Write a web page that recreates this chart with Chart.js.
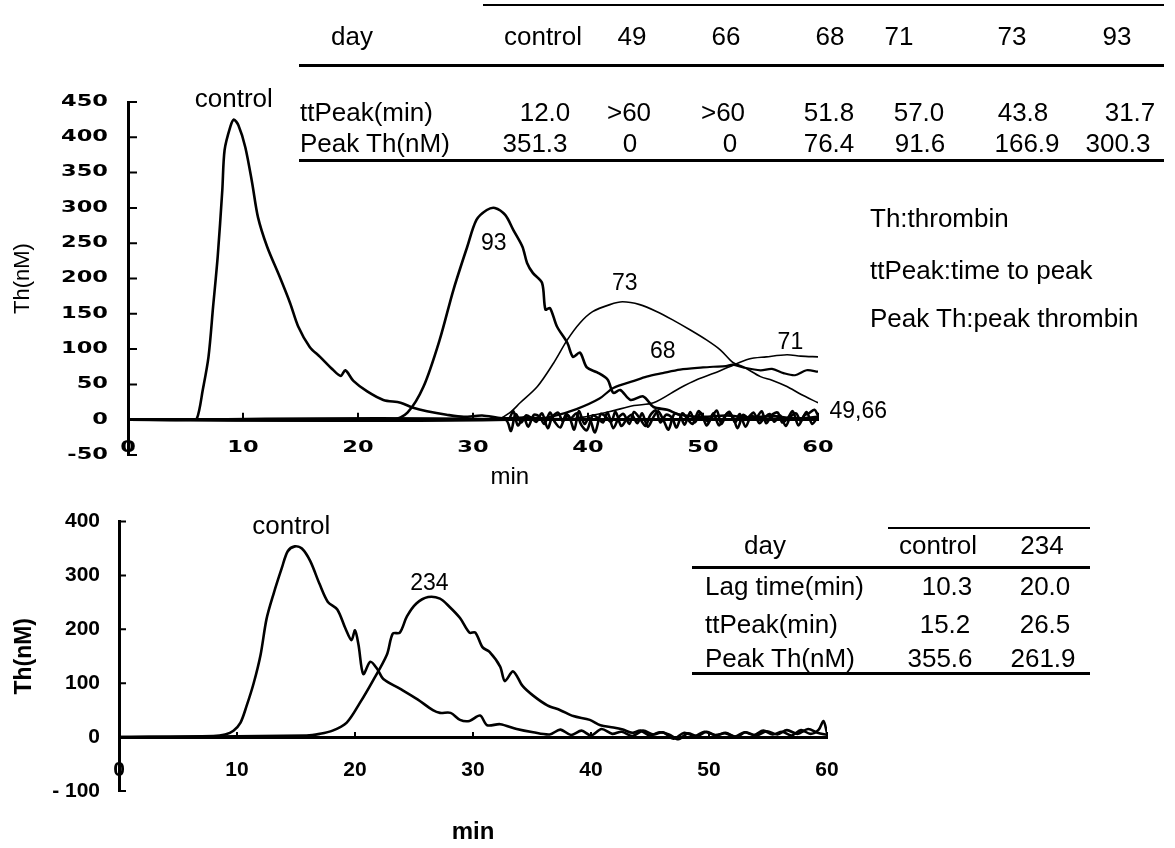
<!DOCTYPE html>
<html>
<head>
<meta charset="utf-8">
<script src="https://cdn.jsdelivr.net/npm/chart.js@4.4.0/dist/chart.umd.min.js"></script>
<style>
  html, body { margin: 0; padding: 0; background: #fff; }
  #page { position: relative; width: 1175px; height: 848px; overflow: hidden; background: #fff;
          font-family: 'Liberation Sans', Arial, sans-serif; color: #000; }
  canvas { position: absolute; left: 0; }
  #top { top: 0; }
  #bottom { top: 490px; }
  .t { position: absolute; font-size: 26px; line-height: 1; white-space: nowrap; }
  .c { transform: translate(-50%, -50%); }
  .l { transform: translate(0, -50%); }
  .rule { position: absolute; background: #000; }
</style>
</head>
<body>
<div id="page">
  <canvas id="top" width="1175" height="490"></canvas>
  <canvas id="bottom" width="1175" height="358"></canvas>
</div>
<script>
// ---- upper panel: thrombin generation curves (min, nM) ----
const ctrlTopX = [0, 5.5, 6.0, 6.5, 7.0, 7.4, 7.8, 8.2, 8.4, 8.9,
  9.2, 9.6, 10.2, 10.8, 11.3, 12.1, 13.2, 14.1, 14.8, 15.8,
  16.7, 17.8, 18.5, 18.9, 19.6, 20.8, 22.2, 23.7, 24.8, 26.0,
  27.7, 29.2, 30.8, 32.5, 34.5, 37.0, 40.0, 45.0, 50.0, 55.0, 60.0];
const ctrlTopY = [0, 0, 2, 42, 89, 160, 231, 325, 382, 415,
  425, 417, 386, 335, 287, 245, 202, 165, 132, 103,
  89, 71, 62, 70, 55, 40, 28, 24, 17, 12,
  7, 4, 6, 2, 3, 1, 0, 0, 0, 0, 0];

const d93X = [0, 23.0, 24.3, 25.7, 27.1, 28.3, 29.5, 30.3, 31.2, 31.9,
  32.8, 33.5, 34.3, 34.7, 35.2, 36.0, 36.3, 36.7, 37.3, 38.2,
  38.7, 39.3, 39.9, 40.8, 41.7, 42.2, 42.8, 43.7, 44.8, 45.7,
  46.9, 48.0, 50.0, 52.0, 54.0, 56.0, 58.0, 60.0];
const d93Y = [0, 0, 10, 47, 113, 184, 245, 283, 297, 300,
  290, 269, 245, 222, 208, 194, 156, 158, 132, 109,
  89, 95, 74, 67, 57, 38, 42, 28, 33, 18,
  14, 7, 4, 6, 3, 5, 2, 4];

const d73X = [0, 32.0, 33.2, 34.1, 35.6, 37.0, 38.2, 39.3, 40.4, 41.9,
  43.0, 44.5, 46.0, 47.4, 48.9, 50.3, 51.5, 52.6, 53.5, 55.0,
  56.0, 57.3, 58.5, 60.0];
const d73Y = [0, 0, 10, 24, 47, 80, 113, 137, 153, 163,
  167, 163, 153, 141, 127, 113, 99, 81, 75, 61,
  56, 47, 36, 24];

const d68X = [0, 35.0, 37.0, 39.0, 41.0, 42.2, 44.0, 45.1, 46.5, 48.0,
  50.0, 50.9, 52.0, 52.6, 53.5, 55.0, 56.0, 57.0, 58.0, 59.0, 60.0];
const d68Y = [0, 0, 5, 15, 30, 45, 55, 61, 66, 71,
  74, 75, 76, 78, 74, 70, 72, 66, 63, 70, 68];

const d71X = [0, 38.0, 40.0, 42.0, 44.0, 45.7, 48.0, 49.5, 51.0, 52.3,
  54.0, 55.5, 57.3, 58.5, 60.0];
const d71Y = [0, 0, 5, 12, 20, 24, 45, 57, 66, 75,
  86, 89, 92, 90, 89];

const d49X = [0, 32.8, 33.3, 33.7, 34.2, 34.6, 35.1, 35.5, 36.0, 36.5,
  36.9, 37.4, 37.8, 38.3, 38.8, 39.2, 39.7, 40.1, 40.6, 41.1,
  41.5, 42.0, 42.4, 42.9, 43.4, 43.8, 44.3, 44.7, 45.2, 45.7,
  46.1, 46.6, 47.0, 47.5, 48.0, 48.4, 48.9, 49.3, 49.8, 50.3,
  50.7, 51.2, 51.6, 52.1, 52.6, 53.0, 53.5, 53.9, 54.4, 54.9,
  55.3, 55.8, 56.2, 56.7, 57.2, 57.6, 58.1, 58.5, 59.0, 59.5, 60.0];
const d49Y = [0, 0, -16, 8, -4, 6, 2, -3, 9, -12,
  4, 10, -2, 6, -14, 12, -6, 3, -18, 8,
  5, -3, 11, -9, 2, 7, -5, 9, -10, 4,
  12, -2, -14, 8, 6, -7, 11, -4, 10, -8,
  2, 13, -6, 9, 4, -12, 7, 3, 10, -5,
  2, 8, -3, 6, -9, 4, 9, -2, 11, -6, 5];

const d66X = [0, 33.0, 33.5, 33.9, 34.4, 34.8, 35.3, 35.8, 36.2, 36.7,
  37.1, 37.6, 38.1, 38.5, 39.0, 39.4, 39.9, 40.4, 40.8, 41.3,
  41.7, 42.2, 42.7, 43.1, 43.6, 44.0, 44.5, 45.0, 45.4, 45.9,
  46.3, 46.8, 47.3, 47.7, 48.2, 48.6, 49.1, 49.6, 50.0, 50.5,
  50.9, 51.4, 51.9, 52.3, 52.8, 53.2, 53.7, 54.2, 54.6, 55.1,
  55.5, 56.0, 56.5, 56.9, 57.4, 57.8, 58.3, 58.8, 59.2, 59.7, 60.0];
const d66Y = [0, 0, 12, -8, 3, -10, 7, 4, -6, 10,
  -3, -11, 8, 2, 9, -7, -15, 6, 3, -4,
  10, -12, 4, 8, -6, 11, 2, -9, 6, 13,
  -4, 7, 3, -11, 9, 2, -6, 12, 4, -3,
  9, -8, 5, 11, -4, 8, -10, 6, 2, 12,
  -5, 7, 10, -4, 3, 12, -8, 6, 9, 14, 6];

// ---- lower panel ----
const ctrlBotX = [0, 8.0, 9.0, 9.7, 10.3, 10.8, 11.4, 12.0, 12.5, 13.1,
  13.8, 14.3, 14.9, 15.5, 16.2, 17.0, 17.7, 18.5, 19.2, 19.7,
  20.0, 20.3, 20.7, 21.3, 21.9, 22.4, 23.8, 25.3, 26.6, 27.2,
  28.1, 28.9, 29.7, 30.6, 31.2, 32.3, 33.7, 35.1, 36.5, 37.4,
  38.3, 39.2, 40.0, 40.9, 41.8, 42.6, 43.5, 44.4, 45.3, 46.1,
  47.0, 47.9, 48.8, 49.6, 50.5, 51.4, 52.3, 53.1, 54.0, 54.9,
  55.8, 56.6, 57.5, 58.4, 59.2, 60.0];
const ctrlBotY = [0, 2, 5, 12, 27, 57, 99, 153, 219, 266,
  314, 345, 354, 350, 327, 284, 251, 237, 201, 180,
  198, 171, 117, 140, 126, 108, 90, 70, 50, 45,
  45, 32, 30, 40, 22, 24, 15, 9, 5, 14,
  4, 12, 3, 15, 6, 10, 2, 12, 5, 9,
  -3, 8, 2, 10, 4, 7, 0, 9, 3, 11,
  5, 13, 6, 15, 8, 4];

const d234X = [0, 15.9, 17.0, 18.1, 19.3, 20.4, 21.5, 22.7, 23.2, 23.8,
  24.4, 25.2, 26.2, 27.2, 28.0, 28.9, 29.7, 30.2, 30.8, 31.4,
  32.3, 32.7, 33.4, 34.2, 35.1, 36.3, 37.4, 38.5, 39.9, 40.8,
  41.9, 42.7, 43.5, 44.2, 45.0, 45.8, 46.6, 47.4, 48.2, 49.0,
  49.8, 50.6, 51.4, 52.2, 53.0, 53.8, 54.6, 55.4, 56.2, 57.0,
  57.8, 58.6, 59.3, 59.7, 60.0];
const d234Y = [0, 3, 6, 12, 27, 63, 104, 153, 192, 194,
  224, 248, 260, 257, 242, 221, 194, 194, 167, 158,
  131, 104, 122, 95, 77, 59, 50, 39, 32, 22,
  18, 14, 8, 12, 3, 9, 5, -4, 7, 2,
  10, 3, 8, 1, 9, 4, 12, 5, 10, 3,
  13, 6, 14, 30, 8];

// ---- tables and notes ----
const topDays = ['control', '49', '66', '68', '71', '73', '93'];
const topTtPeak = ['12.0', '>60', '>60', '51.8', '57.0', '43.8', '31.7'];
const topPeakTh = ['351.3', '0', '0', '76.4', '91.6', '166.9', '300.3'];
const botDays = ['control', '234'];
const botLag = ['10.3', '20.0'];
const botTtPeak = ['15.2', '26.5'];
const botPeakTh = ['355.6', '261.9'];
const notes = ['Th:thrombin', 'ttPeak:time to peak', 'Peak Th:peak thrombin'];

const xy = (xs, ys) => xs.map((x, i) => ({ x: x, y: ys[i] }));
const line = (xs, ys, w) => ({ data: xy(xs, ys), borderColor: '#000', borderWidth: w,
  pointRadius: 0, tension: 0.3, fill: false });

// tick labels of the upper panel are printed wide in the scan
const wideTickLabels = {
  id: 'wideTickLabels',
  afterDraw(chart, args, opts) {
    const { ctx, scales: { x, y } } = chart;
    const y0 = y.getPixelForValue(0);
    ctx.save();
    ctx.fillStyle = '#000';
    ctx.font = 'bold ' + opts.size + 'px "DejaVu Sans"';
    ctx.textBaseline = 'middle';
    const put = (txt, px, py, align) => {
      ctx.save();
      ctx.translate(px, py);
      ctx.scale(opts.stretch, 1);
      ctx.textAlign = align;
      ctx.fillText(txt, 0, 0);
      ctx.restore();
    };
    y.ticks.forEach(t => put(String(t.label), x.left - opts.gapY, y.getPixelForValue(t.value), 'right'));
    x.ticks.forEach(t => put(String(t.label), x.getPixelForValue(t.value), y0 + opts.gapX, 'center'));
    ctx.restore();
  }
};

// inward tick marks
const tickMarks = {
  id: 'tickMarks',
  afterDraw(chart, args, opts) {
    const { ctx, scales: { x, y } } = chart;
    const y0 = y.getPixelForValue(0);
    ctx.save();
    ctx.strokeStyle = '#000';
    ctx.lineWidth = 2;
    ctx.beginPath();
    y.ticks.forEach(t => {
      const p = y.getPixelForValue(t.value);
      ctx.moveTo(x.left, p); ctx.lineTo(x.left + opts.len, p);
    });
    x.ticks.forEach(t => {
      if (t.value === 0) return;
      const p = x.getPixelForValue(t.value);
      ctx.moveTo(p, y0); ctx.lineTo(p, y0 - opts.len + 2);
    });
    ctx.stroke();
    ctx.restore();
  }
};

// curve labels, placed in data coordinates
const curveLabels = {
  id: 'curveLabels',
  afterDraw(chart, args, opts) {
    const { ctx, scales: { x, y } } = chart;
    ctx.save();
    ctx.fillStyle = '#000';
    ctx.textBaseline = 'middle';
    opts.items.forEach(it => {
      ctx.font = it[3] + 'px "Liberation Sans", Arial, sans-serif';
      ctx.textAlign = it[4] || 'center';
      ctx.fillText(it[0], x.getPixelForValue(it[1]), y.getPixelForValue(it[2]));
    });
    ctx.restore();
  }
};

const topLabels = [['control', 9.2, 453, 26], ['93', 31.8, 250, 23], ['73', 43.2, 192, 23],
  ['68', 46.5, 96, 23], ['71', 57.6, 109, 23], ['49,66', 61.0, 11, 23, 'left'], ['min', 33.2, -82, 24]];
const botLabels = [['control', 14.6, 390, 26], ['234', 26.3, 284, 23]];

new Chart(document.getElementById('top'), {
  type: 'line',
  data: { datasets: [
    line(d49X, d49Y, 2.6), line(d66X, d66Y, 2.6),
    line(ctrlTopX, ctrlTopY, 2.6), line(d93X, d93Y, 2.6),
    line(d73X, d73Y, 1.6), line(d68X, d68Y, 2.2), line(d71X, d71Y, 1.6)
  ] },
  options: {
    responsive: false,
    animation: false,
    layout: { padding: { left: 0, top: 102, right: 357, bottom: 35 } },
    plugins: {
      legend: { display: false },
      tooltip: { enabled: false },
      wideTickLabels: { size: 15, stretch: 1.5, gapY: 20, gapX: 28 },
      tickMarks: { len: 9 },
      curveLabels: { items: topLabels }
    },
    scales: {
      x: {
        type: 'linear', min: 0, max: 60, position: { y: 0 },
        grid: { display: false, drawTicks: false },
        border: { color: '#000', width: 3 },
        ticks: { stepSize: 10, display: false }
      },
      y: {
        min: -50, max: 450,
        afterFit: s => { s.width = 128; },
        grid: { display: false, drawTicks: false },
        border: { color: '#000', width: 3 },
        ticks: { stepSize: 50, display: false },
        title: { display: true, text: 'Th(nM)', color: '#000', padding: { top: 10 },
          font: { family: 'Liberation Sans', size: 22 } }
      }
    }
  },
  plugins: [wideTickLabels, tickMarks, curveLabels]
});

new Chart(document.getElementById('bottom'), {
  type: 'line',
  data: { datasets: [line(d234X, d234Y, 2.6), line(ctrlBotX, ctrlBotY, 2.6)] },
  options: {
    responsive: false,
    animation: false,
    layout: { padding: { left: 0, top: 22, right: 348, bottom: 57 } },
    plugins: {
      legend: { display: false },
      tooltip: { enabled: false },
      tickMarks: { len: 7 },
      curveLabels: { items: botLabels }
    },
    scales: {
      x: {
        type: 'linear', min: 0, max: 60, position: { y: 0 },
        grid: { display: false, drawTicks: false },
        border: { color: '#000', width: 3 },
        ticks: { stepSize: 10, color: '#000', padding: 20, maxRotation: 0,
          font: { family: 'Liberation Sans', size: 21, weight: 'bold' } },
        title: { display: true, text: 'min', color: '#000', padding: { top: 16 },
          font: { family: 'Liberation Sans', size: 24, weight: 'bold' } }
      },
      y: {
        min: -100, max: 400,
        afterFit: s => { s.width = 119; },
        grid: { display: false, drawTicks: false },
        border: { color: '#000', width: 3 },
        ticks: { stepSize: 100, color: '#000', padding: 19,
          font: { family: 'Liberation Sans', size: 21, weight: 'bold' },
          callback: v => v < 0 ? '- ' + Math.abs(v) : v },
        title: { display: true, text: 'Th(nM)', color: '#000', padding: { top: 11 },
          font: { family: 'Liberation Sans', size: 23, weight: 'bold' } }
      }
    }
  },
  plugins: [tickMarks, curveLabels]
});

// ---- HTML tables ----
const page = document.getElementById('page');
function addText(txt, x, y, cls) {
  const d = document.createElement('div');
  d.className = 't ' + cls;
  d.style.left = x + 'px';
  d.style.top = y + 'px';
  d.textContent = txt;
  page.appendChild(d);
}
function addRule(x1, x2, y, h) {
  const d = document.createElement('div');
  d.className = 'rule';
  d.style.left = x1 + 'px';
  d.style.width = (x2 - x1) + 'px';
  d.style.top = (y - h / 2) + 'px';
  d.style.height = h + 'px';
  page.appendChild(d);
}

// upper table
addRule(483, 1164, 5, 2);
addRule(299, 1164, 65, 3);
addRule(299, 1164, 160, 3);
addText('day', 352, 36, 'c');
[543, 632, 726, 830, 899, 1012, 1117].forEach((x, i) => addText(topDays[i], x, 36, 'c'));
addText('ttPeak(min)', 300, 112, 'l');
[545, 629, 723, 829, 919, 1023, 1130].forEach((x, i) => addText(topTtPeak[i], x, 112, 'c'));
addText('Peak Th(nM)', 300, 143, 'l');
[535, 630, 730, 829, 920, 1027, 1118].forEach((x, i) => addText(topPeakTh[i], x, 143, 'c'));

// notes
[218, 270, 318].forEach((y, i) => addText(notes[i], 870, y, 'l'));

// lower table
addRule(888, 1090, 528, 2);
addRule(692, 1090, 567, 3);
addRule(692, 1090, 673, 3);
addText('day', 765, 545, 'c');
[938, 1042].forEach((x, i) => addText(botDays[i], x, 545, 'c'));
addText('Lag time(min)', 705, 586, 'l');
[947, 1045].forEach((x, i) => addText(botLag[i], x, 586, 'c'));
addText('ttPeak(min)', 705, 624, 'l');
[945, 1045].forEach((x, i) => addText(botTtPeak[i], x, 624, 'c'));
addText('Peak Th(nM)', 705, 658, 'l');
[940, 1043].forEach((x, i) => addText(botPeakTh[i], x, 658, 'c'));
</script>
</body>
</html>
